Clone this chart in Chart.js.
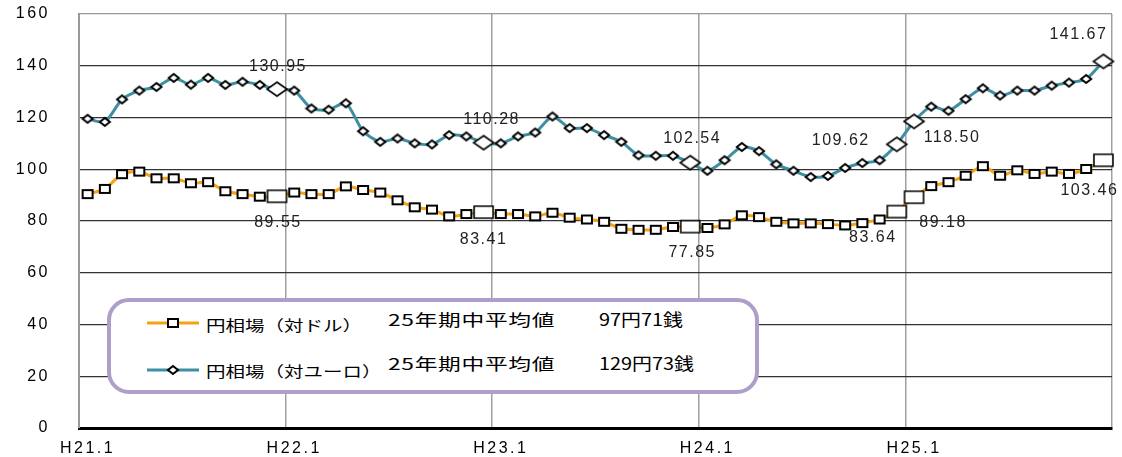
<!DOCTYPE html>
<html lang="ja">
<head>
<meta charset="utf-8">
<script src="https://cdn.jsdelivr.net/npm/chart.js@4.4.0/dist/chart.umd.min.js"></script>
<style>
  html, body { margin: 0; padding: 0; background: #fff; }
  #wrap { position: relative; width: 1122px; height: 457px; }
  canvas { display: block; }
  #legend {
    position: absolute; left: 107px; top: 298px; width: 652px; height: 96px;
    box-sizing: border-box; border: 4px solid #ae9fc9; border-radius: 22px; background: #fff;
    font-family: "Noto Sans CJK JP", sans-serif; color: #000;
  }
  #legend svg { position: absolute; left: 0; top: 0; }
  #legend span { position: absolute; white-space: nowrap; transform-origin: 0 50%; line-height: 20px; }
  .name { font-size: 15px; transform: scaleX(1.3); }
  .avg { font-size: 16px; letter-spacing: 0.5px; transform: scaleX(1.42); }
  .val { font-size: 17px; transform: scaleX(1.17); }
</style>
</head>
<body>
<div id="wrap">
  <canvas id="chart" width="1122" height="457"></canvas>
  <div id="legend">
    <svg width="644" height="88">
      <line x1="36" y1="21" x2="88" y2="21" stroke="#f5a213" stroke-width="3"/>
      <rect x="57" y="17" width="10" height="8" fill="#fff" stroke="#000" stroke-width="2"/>
      <line x1="36" y1="68" x2="88" y2="68" stroke="#3f8fa3" stroke-width="3"/>
      <polygon points="62,64 67,68 62,72 57,68" fill="#fff" stroke="#000" stroke-width="2"/>
    </svg>
    <span class="name" style="left:95px;top:13px;">円相場（対ドル）</span>
    <span class="name" style="left:95px;top:59px;">円相場（対ユーロ）</span>
    <span class="avg" style="left:277px;top:7px;">25年期中平均値</span>
    <span class="avg" style="left:277px;top:51px;">25年期中平均値</span>
    <span class="val" style="left:488px;top:7px;">97円71銭</span>
    <span class="val" style="left:488px;top:51px;">129円73銭</span>
  </div>
</div>
<script>
// months H21.1 .. H25.12
const years = ['H21', 'H22', 'H23', 'H24', 'H25'];
const months = [];
years.forEach(y => { for (let m = 1; m <= 12; m++) months.push(y + '.' + m); });
const yearTicks = ['H21.1', 'H22.1', 'H23.1', 'H24.1', 'H25.1'];

const usd = [
  90.4, 92.4, 98.1, 99.1, 96.5, 96.5, 94.6, 95.0, 91.5, 90.4, 89.4, 89.55,
  91.0, 90.4, 90.4, 93.4, 92.0, 91.0, 88.0, 85.3, 84.4, 81.8, 82.7, 83.41,
  82.7, 82.7, 81.8, 83.2, 81.3, 80.6, 79.7, 77.0, 76.6, 76.6, 77.7, 77.85,
  77.3, 78.7, 82.2, 81.5, 79.7, 79.1, 79.1, 78.8, 78.3, 79.2, 80.6, 83.64,
  89.18, 93.5, 95.0, 97.5, 101.2, 97.5, 99.6, 98.2, 99.1, 98.2, 100.1, 103.46
];
const euro = [
  119.5, 118.3, 127.0, 130.4, 131.8, 135.3, 132.7, 135.3, 132.6, 133.8, 132.6, 130.95,
  130.4, 123.5, 123.0, 125.5, 114.7, 110.6, 111.9, 110.0, 109.6, 113.2, 112.7, 110.28,
  110.0, 112.7, 114.2, 120.4, 115.9, 115.9, 113.2, 110.6, 105.4, 105.2, 105.2, 102.54,
  99.4, 103.5, 108.6, 107.0, 101.9, 99.4, 97.0, 97.4, 100.5, 102.4, 103.5, 109.62,
  118.50, 124.2, 122.6, 127.1, 131.3, 128.5, 130.4, 130.4, 132.3, 133.5, 134.9, 141.67
];
// points with big markers and value labels
const keyIdx = [11, 23, 35, 47, 48, 59];
const usdLabels = ['89.55', '83.41', '77.85', '83.64', '89.18', '103.46'];
const euroLabels = ['130.95', '110.28', '102.54', '109.62', '118.50', '141.67'];

// label offsets from the point (px)
const usdOff = [[1, 26], [0, 27], [2, 26], [-24, 26], [29, 25], [-14, 30]];
const euroOff = [[1, -23], [8, -23], [2, -24], [-56, -4], [38, 16], [-25, -27]];

const FONT = '"Liberation Sans", Arial, sans-serif';

function marker(shape, w, h, lw) {
  const c = document.createElement('canvas');
  c.width = w + 4; c.height = h + 4;
  const g = c.getContext('2d');
  g.fillStyle = '#fff'; g.strokeStyle = '#000'; g.lineWidth = lw;
  g.beginPath();
  if (shape === 'rect') {
    g.rect(2, 2, w, h);
  } else {
    g.moveTo(c.width / 2, 2); g.lineTo(w + 2, c.height / 2);
    g.lineTo(c.width / 2, h + 2); g.lineTo(2, c.height / 2); g.closePath();
  }
  g.fill(); g.stroke();
  return c;
}
const sqS = marker('rect', 10, 8, 2), sqB = marker('rect', 19, 12, 1.6);
const diS = marker('diamond', 10, 8, 2), diB = marker('diamond', 20, 14, 1.6);

const valueLabels = {
  id: 'valueLabels',
  beforeDraw(chart) { chart.ctx.letterSpacing = '2.5px'; },
  afterDatasetsDraw(chart) {
    const ctx = chart.ctx;
    ctx.save();
    ctx.letterSpacing = '1.5px';
    ctx.font = '16px ' + FONT;
    ctx.fillStyle = '#222';
    ctx.textAlign = 'center';
    ctx.textBaseline = 'middle';
    [[0, euroLabels, euroOff], [1, usdLabels, usdOff]].forEach(([d, texts, off]) => {
      const meta = chart.getDatasetMeta(d);
      keyIdx.forEach((idx, k) => {
        const p = meta.data[idx];
        ctx.fillText(texts[k], p.x + off[k][0], p.y + off[k][1]);
      });
    });
    ctx.restore();
  }
};

new Chart(document.getElementById('chart'), {
  type: 'line',
  data: {
    labels: months,
    datasets: [
      {
        label: '円相場（対ユーロ）', data: euro,
        borderColor: '#3f8fa3', borderWidth: 3, tension: 0.25,
        pointRadius: 5,
        pointStyle: c => keyIdx.includes(c.dataIndex) ? diB : diS
      },
      {
        label: '円相場（対ドル）', data: usd,
        borderColor: '#f5a213', borderWidth: 3, tension: 0.25,
        pointRadius: 5,
        pointStyle: c => keyIdx.includes(c.dataIndex) ? sqB : sqS
      }
    ]
  },
  options: {
    responsive: false,
    animation: false,
    devicePixelRatio: 1,
    layout: { padding: { top: 14, right: 10, left: 0, bottom: 0 } },
    plugins: { legend: { display: false }, tooltip: { enabled: false } },
    scales: {
      x: {
        offset: true,
        grid: {
          offset: true, drawTicks: false, lineWidth: 1.5,
          color: c => (c.index === undefined || c.index % 12 === 0) ? '#a0a0a0' : 'rgba(0,0,0,0)'
        },
        border: { color: '#000', width: 3 },
        ticks: {
          autoSkip: false, maxRotation: 0, padding: 11, color: '#000',
          font: { family: FONT, size: 16 },
          callback: (v, i) => i % 12 === 0 ? yearTicks[i / 12] : ''
        },
        afterFit: s => { s.height = 29; s.paddingLeft = 0; s.paddingRight = 0; }
      },
      y: {
        min: 0, max: 160,
        grid: {
          drawTicks: false, lineWidth: 1.3,
          color: c => c.tick.value === 160 ? '#999' : '#333'
        },
        border: { color: '#999', width: 2 },
        ticks: { stepSize: 20, padding: 29, color: '#000', font: { family: FONT, size: 16 } },
        afterFit: s => { s.width = 79; s.paddingTop = 0; s.paddingBottom = 0; }
      }
    }
  },
  plugins: [valueLabels]
});
</script>
</body>
</html>
